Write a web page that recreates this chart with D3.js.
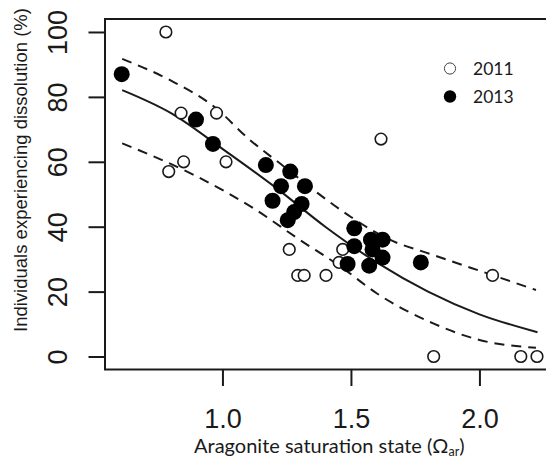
<!DOCTYPE html>
<html>
<head>
<meta charset="utf-8">
<script src="https://cdn.jsdelivr.net/npm/d3@7"></script>
<style>
  body { margin: 0; background: #fff; }
  svg { display: block; }
</style>
</head>
<body>
<svg id="chart" width="546" height="459"></svg>
<script>
// data
const open2011X = [0.780, 0.839, 0.977, 0.849, 0.791, 1.014, 1.260, 1.293, 1.318, 1.403, 1.468, 1.454, 1.617, 2.051, 1.822, 2.161, 2.224];
const open2011Y = [100, 75, 75, 60, 57, 60, 33, 25, 25, 25, 33, 29, 67, 25, 0, 0, 0];

const filled2013X = [0.608, 0.897, 0.963, 1.169, 1.264, 1.228, 1.321, 1.195, 1.308, 1.279, 1.254, 1.513, 1.513, 1.578, 1.623, 1.584, 1.623, 1.487, 1.571, 1.772];
const filled2013Y = [87, 73, 65.5, 59, 57, 52.5, 52.5, 48, 47, 44.5, 42, 39.5, 34, 36, 36, 33, 30.5, 28.5, 28, 29];

const fitX = [0.61, 0.80, 1.00, 1.20, 1.40, 1.60, 1.80, 2.00, 2.226];
const fitY = [82.1, 75, 64, 52.5, 40, 29, 20, 13, 7.5];

const upperX = [0.61, 0.80, 0.975, 1.10, 1.24, 1.38, 1.50, 1.64, 1.82, 2.05, 2.22];
const upperY = [91.7, 85, 76.5, 67.2, 58.5, 49.8, 43, 36.4, 31.3, 25.1, 20.5];

const lowerX = [0.61, 0.89, 1.12, 1.30, 1.46, 1.60, 1.82, 2.00, 2.22];
const lowerY = [65.7, 55.9, 45.7, 36, 27.7, 19.5, 10.2, 5.1, 2.7];

const xTicks = [1.0, 1.5, 2.0];
const yTicks = [0, 20, 40, 60, 80, 100];
const legendLabels = ["2011", "2013"];

const svg = d3.select("svg#chart");
const plot = { left: 105, right: 553.7, top: 19, bottom: 369.5 };
const ink = "#1a1a1a";

const x = d3.scaleLinear().domain([0.543, 2.289]).range([plot.left, plot.right]);
const y = d3.scaleLinear().domain([-4, 104]).range([plot.bottom, plot.top]);

const zip = (xs, ys) => xs.map((v, i) => [v, ys[i]]);

// box
svg.append("rect")
    .attr("x", plot.left).attr("y", plot.top)
    .attr("width", plot.right - plot.left).attr("height", plot.bottom - plot.top)
    .attr("fill", "none").attr("stroke", ink).attr("stroke-width", 2);

// axes
const xAxis = svg.append("g")
    .attr("transform", `translate(0,${plot.bottom})`)
    .call(d3.axisBottom(x).tickValues(xTicks).tickFormat(d3.format(".1f")).tickSize(16.5).tickSizeOuter(0));
xAxis.select(".domain").remove();
xAxis.selectAll("line").attr("stroke", ink).attr("stroke-width", 2);
xAxis.selectAll("text")
    .attr("y", 58.5).attr("dy", 0)
    .attr("fill", ink)
    .style("font-family", "'Liberation Sans', Arial, sans-serif")
    .style("font-size", "27px");

const yAxis = svg.append("g")
    .attr("transform", `translate(${plot.left},0)`)
    .call(d3.axisLeft(y).tickValues(yTicks).tickSize(16.5).tickSizeOuter(0));
yAxis.select(".domain").remove();
yAxis.selectAll("line").attr("stroke", ink).attr("stroke-width", 2);
yAxis.selectAll("text")
    .attr("transform", "rotate(-90)")
    .attr("x", 0).attr("y", -38.3).attr("dy", 0)
    .attr("text-anchor", "middle")
    .attr("fill", ink)
    .style("font-family", "'Liberation Sans', Arial, sans-serif")
    .style("font-size", "27px");

// axis titles
const xTitle = svg.append("text")
    .attr("x", (plot.left + plot.right) / 2).attr("y", 452.5)
    .attr("text-anchor", "middle")
    .attr("fill", ink)
    .style("font-family", "Lato, sans-serif")
    .style("font-size", "20px");
xTitle.append("tspan").text("Aragonite saturation state (Ω");
xTitle.append("tspan").attr("dy", 3).style("font-size", "12.5px").text("ar");
xTitle.append("tspan").attr("dy", -3).text(")");

svg.append("text")
    .attr("transform", "translate(26.7,170) rotate(-90)")
    .attr("text-anchor", "middle")
    .attr("fill", ink)
    .style("font-family", "'Liberation Sans', Arial, sans-serif")
    .style("font-size", "18.5px")
    .text("Individuals experiencing dissolution (%)");

// fitted curve and bounds
const line = d3.line().x(d => x(d[0])).y(d => y(d[1])).curve(d3.curveMonotoneX);

svg.append("path").datum(zip(fitX, fitY))
    .attr("d", line).attr("fill", "none").attr("stroke", ink).attr("stroke-width", 2);

[zip(upperX, upperY), zip(lowerX, lowerY)].forEach(pts => {
    svg.append("path").datum(pts)
        .attr("d", line).attr("fill", "none").attr("stroke", ink)
        .attr("stroke-width", 2).attr("stroke-dasharray", "10,7");
});

// points
svg.append("g").selectAll("circle")
    .data(zip(open2011X, open2011Y))
    .join("circle")
    .attr("cx", d => x(d[0])).attr("cy", d => y(d[1]))
    .attr("r", 5.8)
    .attr("fill", "#fff").attr("stroke", ink).attr("stroke-width", 1.6);

svg.append("g").selectAll("circle")
    .data(zip(filled2013X, filled2013Y))
    .join("circle")
    .attr("cx", d => x(d[0])).attr("cy", d => y(d[1]))
    .attr("r", 8)
    .attr("fill", "#000");

// legend
const legend = svg.append("g").attr("transform", "translate(450,68.5)");
legend.selectAll("circle")
    .data(legendLabels)
    .join("circle")
    .attr("cx", 0).attr("cy", (d, i) => i * 28)
    .attr("r", (d, i) => i ? 6.2 : 5.6)
    .attr("fill", (d, i) => i ? "#000" : "#fff")
    .attr("stroke", (d, i) => i ? "none" : "#444")
    .attr("stroke-width", 1);
legend.selectAll("text")
    .data(legendLabels)
    .join("text")
    .attr("x", 23).attr("y", (d, i) => i * 28 + 6)
    .attr("fill", ink)
    .style("font-family", "Lato, sans-serif")
    .style("font-size", "17.5px")
    .text(d => d);
</script>
</body>
</html>
